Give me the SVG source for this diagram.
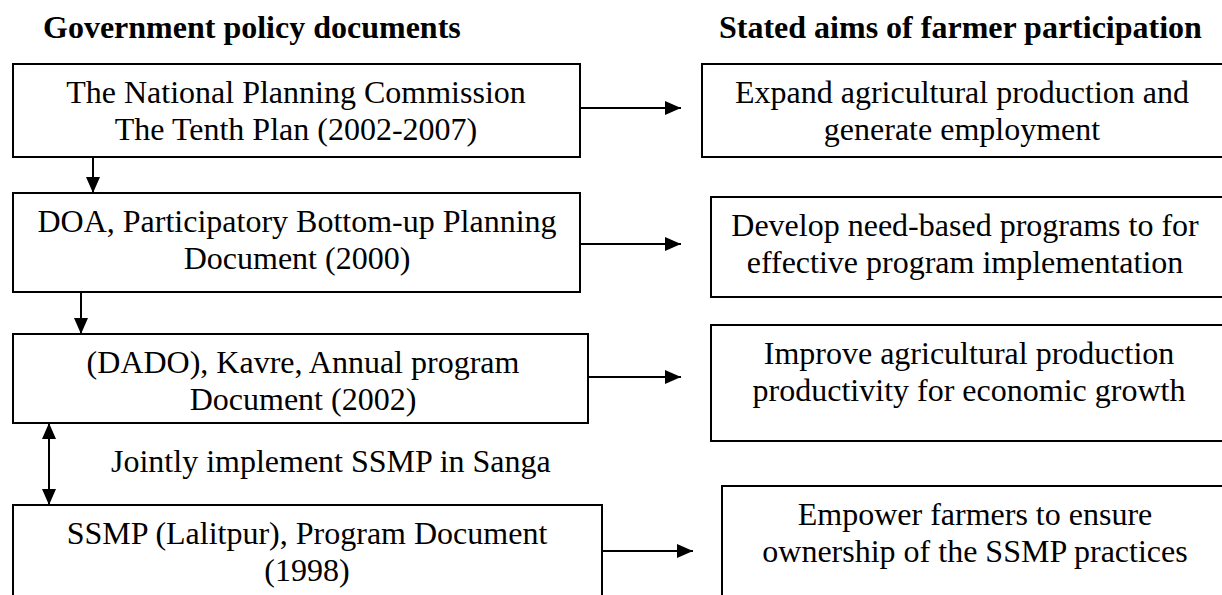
<svg xmlns="http://www.w3.org/2000/svg" width="1222" height="595" viewBox="0 0 1222 595">
<style>
.box{fill:#fff;stroke:#000;stroke-width:2}
.t{font-family:'Liberation Serif',serif;font-size:32px;fill:#000;text-anchor:middle}
.h{font-family:'Liberation Serif',serif;font-size:32px;font-weight:bold;fill:#000}
.c{stroke:#000;stroke-width:2;fill:none}
</style>
<defs>
<marker id="ah" markerUnits="userSpaceOnUse" markerWidth="16" markerHeight="14" refX="16" refY="7" orient="auto-start-reverse">
<path d="M0,0 L16,7 L0,14 Z" fill="#000"/>
</marker>
</defs>
<rect width="1222" height="595" fill="#fff"/>
<g id="headers" font-family="Liberation Serif, serif">
<text class="h" x="43" y="38">Government policy documents</text>
<text class="h" x="719" y="38">Stated aims of farmer participation</text>
</g>
<g id="n1" font-family="Liberation Serif, serif"><rect class="box" x="13" y="64" width="567" height="93"/>
<text class="t" x="296" y="103">The National Planning Commission</text>
<text class="t" x="296" y="140">The Tenth Plan (2002-2007)</text></g>
<g id="n2" font-family="Liberation Serif, serif"><rect class="box" x="13" y="193" width="567" height="99"/>
<text class="t" x="297" y="232">DOA, Participatory Bottom-up Planning</text>
<text class="t" x="297" y="269">Document (2000)</text></g>
<g id="n3" font-family="Liberation Serif, serif"><rect class="box" x="13" y="334" width="575" height="89"/>
<text class="t" x="303" y="373">(DADO), Kavre, Annual program</text>
<text class="t" x="303" y="410">Document (2002)</text></g>
<g id="n4" font-family="Liberation Serif, serif"><rect class="box" x="13" y="505" width="589" height="100"/>
<text class="t" x="307" y="544">SSMP (Lalitpur), Program Document</text>
<text class="t" x="307" y="581">(1998)</text></g>
<g id="r1" font-family="Liberation Serif, serif"><rect class="box" x="702" y="64" width="530" height="93"/>
<text class="t" x="962" y="103">Expand agricultural production and</text>
<text class="t" x="962" y="140">generate employment</text></g>
<g id="r2" font-family="Liberation Serif, serif"><rect class="box" x="711" y="197" width="520" height="100"/>
<text class="t" x="965" y="236">Develop need-based programs to for</text>
<text class="t" x="965" y="273">effective program implementation</text></g>
<g id="r3" font-family="Liberation Serif, serif"><rect class="box" x="711" y="325" width="520" height="116"/>
<text class="t" x="969" y="364">Improve agricultural production</text>
<text class="t" x="969" y="401">productivity for economic growth</text></g>
<g id="r4" font-family="Liberation Serif, serif"><rect class="box" x="722" y="486" width="510" height="120"/>
<text class="t" x="975" y="525">Empower farmers to ensure</text>
<text class="t" x="975" y="562">ownership of the SSMP practices</text></g>
<g id="connectors">
<line class="c" x1="93" y1="157" x2="93" y2="193" marker-end="url(#ah)"/>
<line class="c" x1="81" y1="292" x2="81" y2="334" marker-end="url(#ah)"/>
<line class="c" x1="49" y1="423" x2="49" y2="505" marker-start="url(#ah)" marker-end="url(#ah)"/>
<line class="c" x1="580" y1="108" x2="681" y2="108" marker-end="url(#ah)"/>
<line class="c" x1="580" y1="244" x2="681" y2="244" marker-end="url(#ah)"/>
<line class="c" x1="588" y1="377" x2="681" y2="377" marker-end="url(#ah)"/>
<line class="c" x1="602" y1="551" x2="693" y2="551" marker-end="url(#ah)"/>
</g>
<g id="label" font-family="Liberation Serif, serif">
<text class="t" x="111" y="472" style="text-anchor:start">Jointly implement SSMP in Sanga</text>
</g>
</svg>
